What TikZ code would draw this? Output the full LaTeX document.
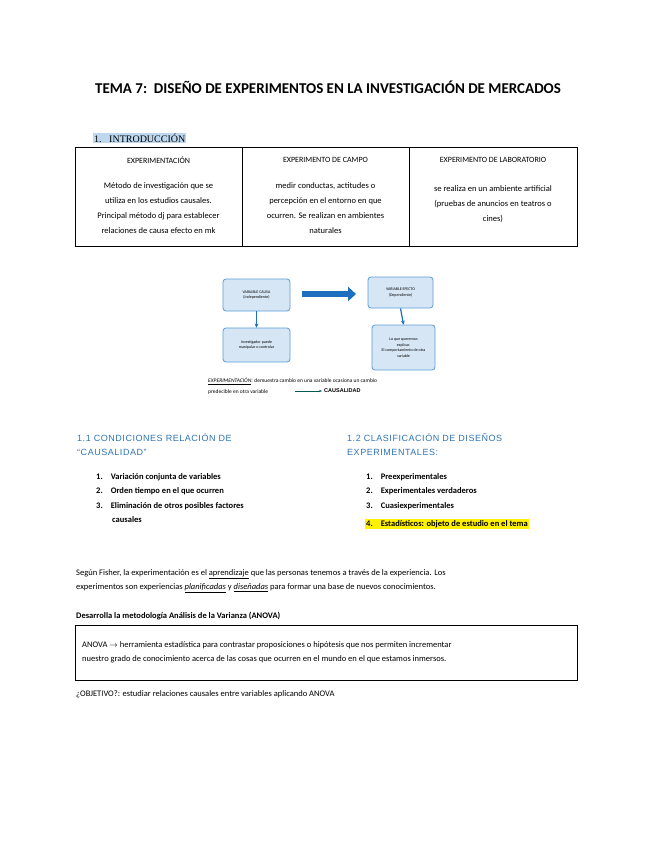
\documentclass[tikz,border=0pt]{standalone}
\usepackage{fontspec}
\setmainfont{Carlito}
\newfontfamily\serifx{Liberation Serif}
\newfontfamily\sansx{Liberation Sans}
\usetikzlibrary{arrows.meta,shapes.arrows}
\definecolor{hdblue}{HTML}{2E74B5}
\definecolor{boxfill}{HTML}{D6E6F5}
\definecolor{boxline}{HTML}{5B9BD5}
\definecolor{arrblue}{HTML}{1F6FBF}
\definecolor{hlblue}{HTML}{BDD7EE}
\tikzset{
 body/.style={font=\fontsize{8.5}{14.5}\selectfont,anchor=west,inner sep=0pt},
 cell/.style={font=\fontsize{8.5}{15}\selectfont,align=center,inner sep=0pt},
 dbox/.style={draw=boxline,fill=boxfill,rounded corners=3pt,line width=0.8pt,align=center,font=\fontsize{4}{5.5}\selectfont,inner sep=1pt},
 sec/.style={font=\sansx\fontsize{9}{14}\selectfont\addfontfeature{LetterSpace=6},text=hdblue,anchor=north west,align=left,inner sep=0pt},
 darr/.style={-{Stealth[length=4pt,width=4pt]},arrblue,line width=1.2pt}
}
\begin{document}
\begin{tikzpicture}[x=1pt,y=-1pt]
\useasboundingbox (0,0) rectangle (655,848);
\node[font=\bfseries\fontsize{15}{16}\selectfont] (title) at (328,87) {TEMA 7:\ \ DISEÑO DE EXPERIMENTOS EN LA INVESTIGACIÓN DE MERCADOS};
\node[fill=hlblue,inner sep=1pt,anchor=west,font=\serifx\fontsize{10}{12}\selectfont] (intro) at (93,138) {1.\ \ \ INTRODUCCIÓN};
% table
\draw[line width=0.8pt] (75,147) rectangle (577,246);
\draw[line width=0.8pt] (242,147) -- (242,246) (409,147) -- (409,246);
\node[cell,font=\fontsize{8}{10}\selectfont] (h1) at (158.5,160) {EXPERIMENTACIÓN};
\node[cell,font=\fontsize{8}{10}\selectfont] (h2) at (325.5,160) {EXPERIMENTO DE CAMPO};
\node[cell,font=\fontsize{8}{10}\selectfont] (h3) at (493,160) {EXPERIMENTO DE LABORATORIO};
\node[cell] (c1) at (158.5,208) {Método de investigación que se\\utiliza en los estudios causales.\\Principal método dj para establecer\\relaciones de causa efecto en mk};
\node[cell] (c2) at (325.5,208) {medir conductas, actitudes o\\percepción en el entorno en que\\ocurren. Se realizan en ambientes\\naturales};
\node[cell] (c3) at (493,204) {se realiza en un ambiente artificial\\(pruebas de anuncios en teatros o\\cines)};
% diagram
\node[dbox,minimum width=67pt,minimum height=32pt] (b1) at (256.5,295) {VARIABLE CAUSA\\(independiente)};
\node[dbox,minimum width=67pt,minimum height=34pt] (b2) at (256.5,345) {Investigador puede\\manipular o controlar};
\node[dbox,minimum width=65pt,minimum height=31pt] (b3) at (400.5,292.5) {VARIABLE EFECTO\\(Dependiente)};
\node[dbox,minimum width=63pt,minimum height=45pt] (b4) at (403.5,347.5) {Lo que queremos\\explicar.\\El comportamiento de otra\\variable};
\draw[darr] (b1.south) -- (b2.north);
\draw[darr] (b3.south) -- (b4.north);
\coordinate (ba) at (302,294);
\coordinate (bb) at (356,294);
\draw[arrblue,line width=6pt,-{Triangle[length=8pt,width=14pt]}] (ba) -- (bb);
\node[body,font=\fontsize{5.5}{11}\selectfont,align=left,anchor=north west] (exp) at (208,378) {\textit{\underline{EXPERIMENTACIÓN}}: demuestra cambio en una variable ocasiona un cambio\\predecible en otra variable};
\coordinate (ca) at (295,391);
\coordinate (cb) at (322,391);
\draw[-{Stealth[length=3pt]},teal!70!black,line width=1pt] (ca) -- (cb);
\node[body,font=\sansx\bfseries\fontsize{5.5}{7}\selectfont] (caus) at (324,391) {CAUSALIDAD};
% sections
\node[sec] (s11) at (77,433) {1.1 CONDICIONES RELACIÓN DE\\“CAUSALIDAD”};
\node[sec] (s12) at (347,433) {1.2 CLASIFICACIÓN DE DISEÑOS\\EXPERIMENTALES:};
\node[body,font=\bfseries\fontsize{8.5}{14.5}\selectfont,anchor=north west,align=left] (l1) at (96,473) {1.\hspace{8pt}Variación conjunta de variables\\2.\hspace{8pt}Orden tiempo en el que ocurren\\3.\hspace{8pt}Eliminación de otros posibles factores\\\hspace{16pt}causales};
\node[body,font=\bfseries\fontsize{8.5}{14.5}\selectfont,anchor=north west,align=left] (l2) at (366,473) {1.\hspace{8pt}Preexperimentales\\2.\hspace{8pt}Experimentales verdaderos\\3.\hspace{8pt}Cuasiexperimentales};
\node[body,font=\bfseries\fontsize{8.5}{10}\selectfont,fill=yellow,inner sep=1pt] (l24) at (365,524) {4.\hspace{8pt}Estadísticos: objeto de estudio en el tema};
% paragraph
\node[body,anchor=north west,align=left] (par) at (76,569) {Según Fisher, la experimentación es el \underline{aprendizaje} que las personas tenemos a través de la experiencia. Los\\experimentos son experiencias \underline{\textit{planificadas}} y \underline{\textit{diseñadas}} para formar una base de nuevos conocimientos.};
\node[body,font=\bfseries\fontsize{8.5}{10}\selectfont] (des) at (76,616) {Desarrolla la metodología Análisis de la Varianza (ANOVA)};
\draw[line width=0.8pt] (75,625) rectangle (577,680);
\node[body,anchor=north west,align=left] (anova) at (82,641) {ANOVA \(\rightarrow\) herramienta estadística para contrastar proposiciones o hipótesis que nos permiten incrementar\\nuestro grado de conocimiento acerca de las cosas que ocurren en el mundo en el que estamos inmersos.};
\node[body] (obj) at (76,694) {¿OBJETIVO?: estudiar relaciones causales entre variables aplicando ANOVA};
\end{tikzpicture}
\end{document}
